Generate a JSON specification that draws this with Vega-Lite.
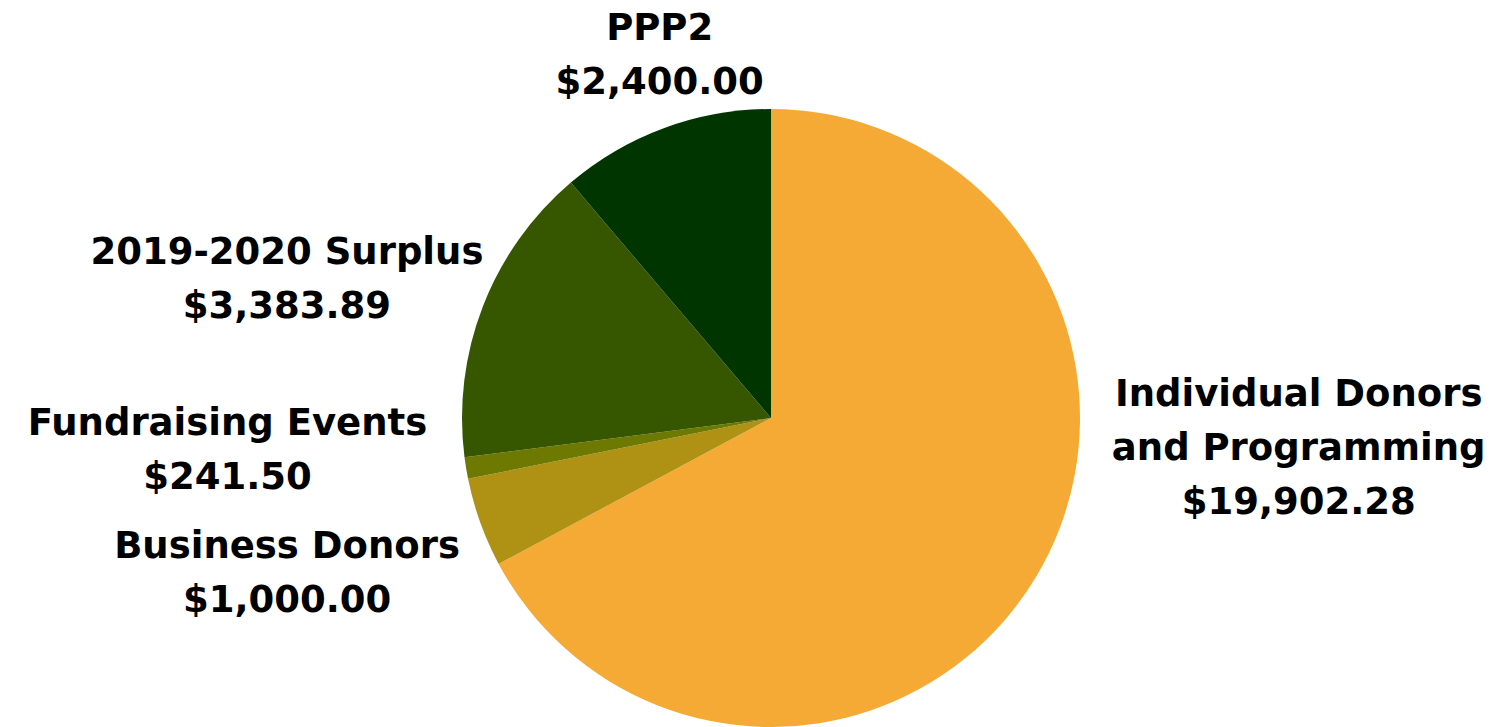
{
  "$schema": "https://vega.github.io/schema/vega-lite/v6.json",
  "width": 1476,
  "height": 618,
  "autosize": {"type": "none"},
  "padding": {"left": 33, "top": 109, "right": 0, "bottom": 0},
  "background": "white",
  "view": {"stroke": null},
  "data": {
    "values": [
      {"category": "Individual Donors and Programming", "label": "Individual Donors\nand Programming\n$19,902.28", "value": 14375},
      {"category": "Business Donors", "label": "Business Donors\n$1,000.00", "value": 1000.00},
      {"category": "Fundraising Events", "label": "Fundraising Events\n$241.50", "value": 241.50},
      {"category": "2019-2020 Surplus", "label": "2019-2020 Surplus\n$3,383.89", "value": 3383.89},
      {"category": "PPP2", "label": "PPP2\n$2,400.00", "value": 2400.00}
    ]
  },
  "transform": [
    {"window": [{"op": "row_number", "as": "idx"}]}
  ],
  "encoding": {
    "theta": {"field": "value", "type": "quantitative", "stack": true},
    "order": {"field": "idx", "type": "quantitative"}
  },
  "layer": [
    {
      "mark": {"type": "arc", "strokeWidth": 0},
      "encoding": {
        "color": {
          "field": "category",
          "type": "nominal",
          "scale": {
            "domain": ["Individual Donors and Programming", "Business Donors", "Fundraising Events", "2019-2020 Surplus", "PPP2"],
            "range": ["#F4AA35", "#AF9213", "#6D7900", "#375600", "#003500"]
          },
          "legend": null
        }
      }
    },
    {
      "mark": {"type": "text", "radius": 340, "dx": 236, "dy": -187, "align": "center", "baseline": "alphabetic", "lineBreak": "\n", "font": "DejaVu Sans", "fontWeight": "bold", "fontSize": 37, "lineHeight": 54, "color": "#000000"},
      "encoding": {
        "detail": {"field": "category", "type": "nominal"},
        "text": {"condition": {"test": "datum.category === 'Individual Donors and Programming'", "field": "label", "type": "nominal"}, "value": ""}
      }
    },
    {
      "mark": {"type": "text", "radius": 340, "dx": -164, "dy": 25, "align": "center", "baseline": "alphabetic", "lineBreak": "\n", "font": "DejaVu Sans", "fontWeight": "bold", "fontSize": 37, "lineHeight": 54, "color": "#000000"},
      "encoding": {
        "detail": {"field": "category", "type": "nominal"},
        "text": {"condition": {"test": "datum.category === 'Business Donors'", "field": "label", "type": "nominal"}, "value": ""}
      }
    },
    {
      "mark": {"type": "text", "radius": 340, "dx": -208, "dy": -38, "align": "center", "baseline": "alphabetic", "lineBreak": "\n", "font": "DejaVu Sans", "fontWeight": "bold", "fontSize": 37, "lineHeight": 54, "color": "#000000"},
      "encoding": {
        "detail": {"field": "category", "type": "nominal"},
        "text": {"condition": {"test": "datum.category === 'Fundraising Events'", "field": "label", "type": "nominal"}, "value": ""}
      }
    },
    {
      "mark": {"type": "text", "radius": 340, "dx": -167, "dy": -31, "align": "center", "baseline": "alphabetic", "lineBreak": "\n", "font": "DejaVu Sans", "fontWeight": "bold", "fontSize": 37, "lineHeight": 54, "color": "#000000"},
      "encoding": {
        "detail": {"field": "category", "type": "nominal"},
        "text": {"condition": {"test": "datum.category === '2019-2020 Surplus'", "field": "label", "type": "nominal"}, "value": ""}
      }
    },
    {
      "mark": {"type": "text", "radius": 340, "dx": 6, "dy": -59, "align": "center", "baseline": "alphabetic", "lineBreak": "\n", "font": "DejaVu Sans", "fontWeight": "bold", "fontSize": 37, "lineHeight": 54, "color": "#000000"},
      "encoding": {
        "detail": {"field": "category", "type": "nominal"},
        "text": {"condition": {"test": "datum.category === 'PPP2'", "field": "label", "type": "nominal"}, "value": ""}
      }
    }
  ]
}
